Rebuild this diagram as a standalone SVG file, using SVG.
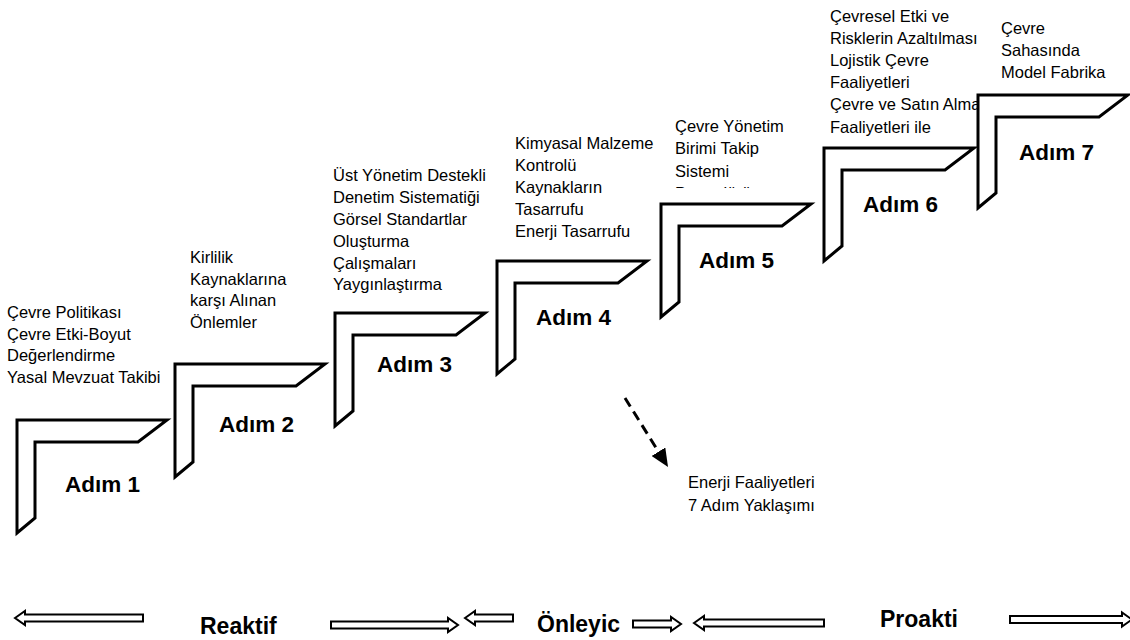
<svg xmlns="http://www.w3.org/2000/svg" width="1130" height="640" viewBox="0 0 1130 640">
  <style>
    .step { fill: #fff; stroke: #000; stroke-width: 3; stroke-linejoin: miter; }
    .lbl { font-family: "Liberation Sans", Arial, sans-serif; font-size: 22.5px; font-weight: bold; fill: #000; }
    .txt { font-family: "Liberation Sans", Arial, sans-serif; font-size: 16.5px; fill: #000; }
    .phase { font-family: "Liberation Sans", Arial, sans-serif; font-size: 23px; font-weight: bold; fill: #000; }
    .barrow { fill: #fff; stroke: #000; stroke-width: 2; }
  </style>
  <defs>
    <!-- one stair step: an L-shaped bracket with bevelled ends -->
    <path id="stair" d="M0,0 H150 L121,22 H18 V98 L0,113 Z"/>
    <marker id="head" viewBox="0 0 18 16" refX="0" refY="8" markerWidth="18" markerHeight="16" markerUnits="userSpaceOnUse" orient="auto">
      <path d="M0,0 L18,8 L0,16 Z" fill="#000"/>
    </marker>
    <clipPath id="clip5">
      <rect x="660" y="100" width="160" height="88"/>
    </clipPath>
  </defs>
  <rect width="1130" height="640" fill="#fff"/>

  <g id="step1">
    <text class="txt"><tspan x="7" y="318">Çevre Politikası</tspan><tspan x="7" y="340">Çevre Etki-Boyut</tspan><tspan x="7" y="361">Değerlendirme</tspan><tspan x="7" y="383">Yasal Mevzuat Takibi</tspan></text>
    <use href="#stair" class="step" x="17" y="420"/>
    <text class="lbl" x="65" y="492">Adım 1</text>
  </g>

  <g id="step2">
    <text class="txt"><tspan x="190" y="263">Kirlilik</tspan><tspan x="190" y="285">Kaynaklarına</tspan><tspan x="190" y="306">karşı Alınan</tspan><tspan x="190" y="328">Önlemler</tspan></text>
    <use href="#stair" class="step" x="175" y="364"/>
    <text class="lbl" x="219" y="432">Adım 2</text>
  </g>

  <g id="step3">
    <text class="txt"><tspan x="333" y="181">Üst Yönetim Destekli</tspan><tspan x="333" y="203">Denetim Sistematiği</tspan><tspan x="333" y="225">Görsel Standartlar</tspan><tspan x="333" y="247">Oluşturma</tspan><tspan x="333" y="269">Çalışmaları</tspan><tspan x="333" y="290">Yaygınlaştırma</tspan></text>
    <use href="#stair" class="step" x="335" y="313"/>
    <text class="lbl" x="377" y="372">Adım 3</text>
  </g>

  <g id="step4">
    <text class="txt"><tspan x="515" y="149">Kimyasal Malzeme</tspan><tspan x="515" y="171">Kontrolü</tspan><tspan x="515" y="193">Kaynakların</tspan><tspan x="515" y="215">Tasarrufu</tspan><tspan x="515" y="237">Enerji Tasarrufu</tspan></text>
    <use href="#stair" class="step" x="497" y="261"/>
    <text class="lbl" x="536" y="325">Adım 4</text>
  </g>

  <g id="step5">
    <text class="txt" clip-path="url(#clip5)"><tspan x="675" y="132">Çevre Yönetim</tspan><tspan x="675" y="154">Birimi Takip</tspan><tspan x="675" y="177">Sistemi</tspan><tspan x="675" y="199">Prosedürü</tspan></text>
    <use href="#stair" class="step" x="661" y="204"/>
    <text class="lbl" x="699" y="268">Adım 5</text>
  </g>

  <g id="step6">
    <text class="txt"><tspan x="830" y="22">Çevresel Etki ve</tspan><tspan x="830" y="44">Risklerin Azaltılması</tspan><tspan x="830" y="66">Lojistik Çevre</tspan><tspan x="830" y="88">Faaliyetleri</tspan><tspan x="830" y="110">Çevre ve Satın Alma</tspan><tspan x="830" y="133">Faaliyetleri ile</tspan></text>
    <use href="#stair" class="step" x="824" y="148"/>
    <text class="lbl" x="863" y="212">Adım 6</text>
  </g>

  <g id="step7">
    <text class="txt"><tspan x="1001" y="34">Çevre</tspan><tspan x="1001" y="56">Sahasında</tspan><tspan x="1001" y="78">Model Fabrika</tspan></text>
    <use href="#stair" class="step" x="978" y="95"/>
    <text class="lbl" x="1019" y="160">Adım 7</text>
  </g>

  <g id="energy-note">
    <text class="txt"><tspan x="688" y="488">Enerji Faaliyetleri</tspan><tspan x="688" y="511">7 Adım Yaklaşımı</tspan></text>
  </g>

  <g id="connectors">
    <line x1="625" y1="398" x2="658.5" y2="451.7" stroke="#000" stroke-width="3" stroke-dasharray="10 6" marker-end="url(#head)"/>
  </g>

  <g id="phases">
    <path class="barrow" d="M15,618 L25,611 V614.5 H143 V621.5 H25 V625 Z"/>
    <text class="phase" x="200" y="634">Reaktif</text>
    <path class="barrow" d="M331,621.5 H448 V618 L458,625 L448,632 V628.5 H331 Z"/>
    <path class="barrow" d="M465,618 L475,611 V614.5 H513 V621.5 H475 V625 Z"/>
    <text class="phase" x="537" y="632">Önleyic</text>
    <path class="barrow" d="M633,620.5 H671 V617 L681,624 L671,631 V627.5 H633 Z"/>
    <path class="barrow" d="M694,623 L704,616 V619.5 H824 V626.5 H704 V630 Z"/>
    <text class="phase" x="880" y="627">Proakti</text>
    <path class="barrow" d="M1010,616 H1122 V612.5 L1132,619.5 L1122,626.5 V623 H1010 Z"/>
  </g>
</svg>
